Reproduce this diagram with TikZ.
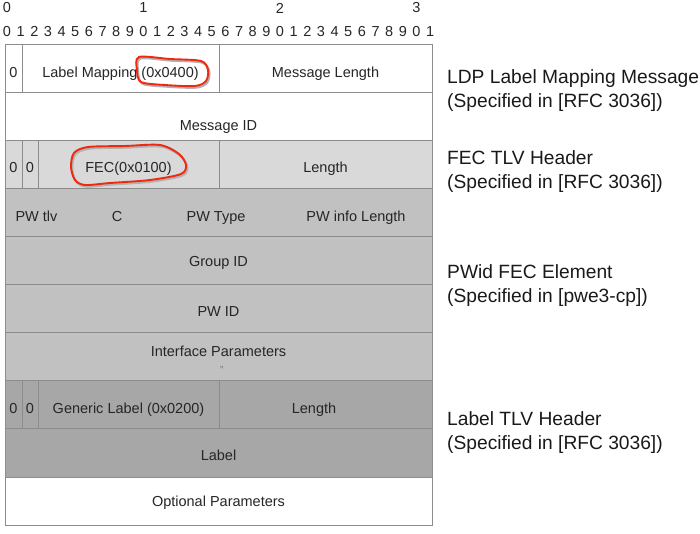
\documentclass[tikz,border=0pt]{standalone}
\usepackage{fontspec}
\setmainfont{Liberation Sans}
\usepackage{tikz}
\usetikzlibrary{calc, chains, positioning}
\definecolor{rulegray}{HTML}{8C8C8C}
\definecolor{lightfill}{HTML}{D9D9D9}
\definecolor{midfill}{HTML}{C1C1C1}
\definecolor{darkfill}{HTML}{A7A7A7}
\definecolor{markred}{HTML}{F0280F}

\begin{document}
\begin{tikzpicture}[
    x = 1pt, y = -1pt,
    node distance = 0mm,
    cell/.style = {draw=rulegray, line width=0.8pt, minimum height=48.1pt,
        inner sep=0pt, outer sep=0pt, text=black!85,
        font=\fontsize{14.5}{17}\selectfont},
    drop/.style = {text height=#1, text depth=0pt},
    field/.style = {inner sep=0pt, text=black!85, text height=10.4pt, text depth=0pt,
        font=\fontsize{14.5}{17}\selectfont},
    bit/.style = {inner sep=0pt, text=black!85, font=\fontsize{14.5}{16}\selectfont},
    note/.style = {anchor=base west, inner sep=0pt, text=black!90,
        font=\fontsize{19.2}{23}\selectfont},
    loop/.style = {draw=markred, line width=1.9pt, line join=round,
        preaction={draw=black!30, line width=2.2pt,
            transform canvas={shift={(1.2pt,-1.6pt)}}}}
  ]
  \useasboundingbox (0,0) rectangle (700,534);

  % bit ruler
  \foreach \t [count=\j from 0] in {0,1,2,3}
  \node[bit] (ten\j) at (7+136.5*\j,8) {\t};
  \foreach \i [evaluate=\i as \digit using {int(mod(\i,10))}] in {0,...,31}
  \node[bit] (bit\i) at (7+13.65*\i,31.5) {\digit};

  % LDP message header
  \begin{scope}[start chain=msg going right, every node/.append style={fill=white, drop=18.4pt}]
    \node[cell, on chain, minimum width=17pt, anchor=north west] (ubit) at (5,44) {0};
    \node[cell, on chain, minimum width=197pt] (msgtype) {Label Mapping (0x0400)};
    \node[cell, on chain, minimum width=213pt] (msglen) {Message Length};
  \end{scope}
  \node[cell, fill=white, drop=28.2pt, minimum width=427pt, anchor=north west] (msgid) at (5,92.1) {Message ID};

  % FEC TLV header
  \begin{scope}[start chain=fec going right, every node/.append style={fill=lightfill, drop=16.4pt}]
    \node[cell, on chain, minimum width=17pt, anchor=north west] (fecu) at (5,140.2) {0};
    \node[cell, on chain, minimum width=16pt] (fecf) {0};
    \node[cell, on chain, minimum width=181pt] (fectype) {FEC(0x0100)};
    \node[cell, on chain, minimum width=213pt] (feclen) {Length};
  \end{scope}

  % PWid FEC element
  \node[cell, fill=midfill, minimum width=427pt, anchor=north west] (pwhdr) at (5,188.3) {};
  \node[field] (pwtlv) at (36.5,216) {PW tlv};
  \node[field] (cbit) at (117,216) {C};
  \node[field] (pwtype) at (216,216) {PW Type};
  \node[field] (pwinfo) at (356,216) {PW info Length};
  \node[cell, fill=midfill, drop=11.4pt, minimum width=427pt, anchor=north west] (grpid) at (5,236.4) {Group ID};
  \node[cell, fill=midfill, drop=15.4pt, minimum width=427pt, anchor=north west] (pwid) at (5,284.5) {PW ID};
  \node[cell, fill=midfill, minimum width=427pt, anchor=north west] (ifparam) at (5,332.6) {};
  \node[field] (iftext) at (218.5,351) {Interface Parameters};
  \node[inner sep=0pt, font=\fontsize{10}{11}\selectfont, text=black!55] (ifmore) at (221.7,370.5) {"};

  % Label TLV header
  \begin{scope}[start chain=lbl going right, every node/.append style={fill=darkfill, drop=17pt}]
    \node[cell, on chain, minimum width=17pt, anchor=north west] (lblu) at (5,380.7) {0};
    \node[cell, on chain, minimum width=16pt] (lblf) {0};
    \node[cell, on chain, minimum width=181pt] (lbltype) {Generic Label (0x0200)};
    \node[cell, on chain, minimum width=213pt,
      label={[field, fill=none, xshift=-11.5pt, yshift=-3.3pt]center:Length}] (lbllen) {};
  \end{scope}
  \node[cell, fill=darkfill, drop=14.8pt, minimum width=427pt, anchor=north west] (lblval) at (5,428.8) {Label};
  \node[cell, fill=white, drop=10.4pt, minimum width=427pt, anchor=north west] (optparam) at (5,476.9) {Optional Parameters};

  % notes on the right
  \node[note] (ldp) at (447,84) {LDP Label Mapping Message};
  \node[note] (ldpspec) at ($(ldp.base west)+(0,24)$) {(Specified in [RFC 3036])};
  \node[note] (fechdr) at (447,165) {FEC TLV Header};
  \node[note] (fecspec) at ($(fechdr.base west)+(0,24)$) {(Specified in [RFC 3036])};
  \node[note] (pwelem) at (447,278) {PWid FEC Element};
  \node[note] (pwspec) at ($(pwelem.base west)+(0,24)$) {(Specified in [pwe3-cp])};
  \node[note] (lbltlv) at (447,425) {Label TLV Header};
  \node[note] (lblspec) at ($(lbltlv.base west)+(0,24)$) {(Specified in [RFC 3036])};

  % red marks
  \draw[loop] plot[smooth cycle] coordinates {(139,57) (170,59) (201,61) (208,70)
    (206,81) (195,86) (165,85) (141,82) (137,70)};
  \draw[loop] plot[smooth cycle] coordinates {(74,153) (88,147) (125,146) (160,145)
    (179,154) (186,165) (181,174) (150,180) (110,183) (85,185) (75,180) (71,167)};
\end{tikzpicture}
\end{document}
